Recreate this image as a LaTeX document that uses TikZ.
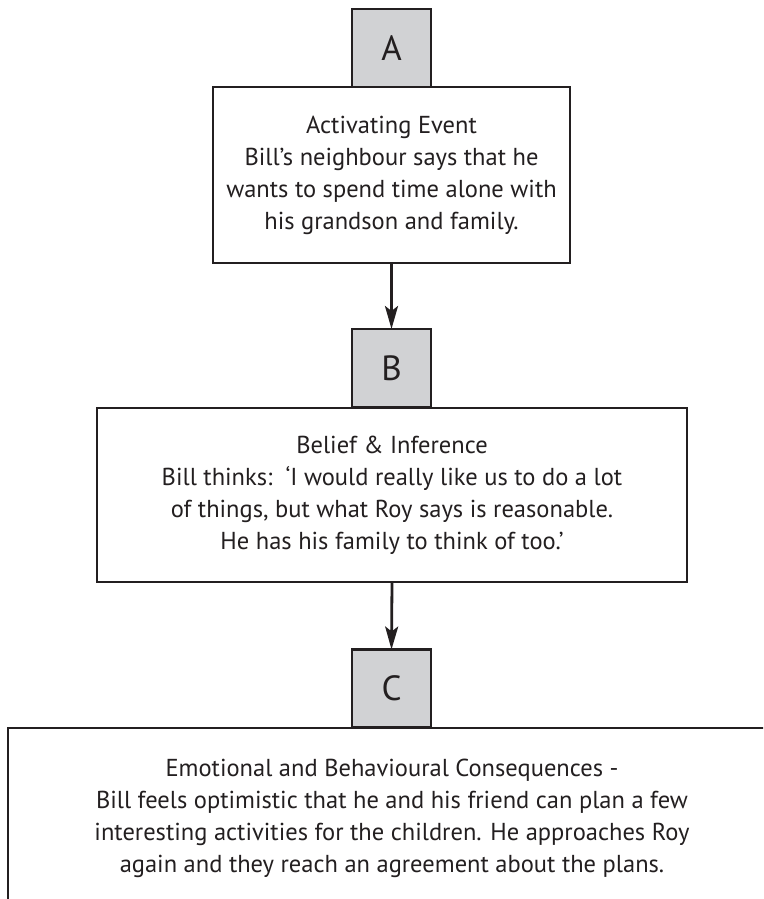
\documentclass[tikz,border=0pt]{standalone}
\usepackage{fontspec}
\setmainfont{PT Sans}
\usetikzlibrary{arrows.meta}
\definecolor{ink}{HTML}{231F20}
\definecolor{tabgrey}{HTML}{D1D2D4}
\begin{document}
\begin{tikzpicture}[x=1pt,y=-1pt,
  every node/.style={inner sep=0pt, outer sep=0pt},
  tab/.style={draw=ink, line width=2.8pt, fill=tabgrey,
    minimum width=79pt, minimum height=78pt,
    font=\fontsize{35}{40}\selectfont, text=ink},
  textbox/.style={draw=ink, line width=2.8pt, fill=white, align=center,
    font=\fontsize{24.5}{32}\selectfont, text=ink},
  flow/.style={draw=ink, line width=2.8pt,
    -{Stealth[length=23pt, width=13pt, inset=5pt]}}]
\clip (0,0) rectangle (763,899);
\fill[white] (0,0) rectangle (763,899);

% A: activating event
\node[textbox, minimum width=357pt, minimum height=176pt] (boxA) at (391.5,175)
  {Activating Event\\
   Bill’s neighbour says that he\\
   wants to spend time alone with\\
   his grandson and family.};
\node[tab] (tabA) at (391.5,48) {A};

% B: belief and inference
\node[textbox, minimum width=590pt, minimum height=174pt] (boxB) at (392,495)
  {Belief \& Inference\\
   Bill thinks:\ \ ‘I would really like us to do a lot\\
   of things, but what Roy says is reasonable.\\
   He has his family to think of too.’};
\node[tab] (tabB) at (391.5,368) {B};

% C: consequences (box runs past the page edge)
\node[textbox, minimum width=792pt, minimum height=180pt, anchor=north west] (boxC) at (8,728) {};
\node[align=center, font=\fontsize{24.5}{32}\selectfont, text=ink] (textC) at (392,818)
  {Emotional and Behavioural Consequences -\\
   Bill feels optimistic that he and his friend can plan a few\\
   interesting activities for the children. He approaches Roy\\
   again and they reach an agreement about the plans.};
\node[tab] (tabC) at (391.5,688.5) {C};

% connectors
\draw[flow] (boxA.south) -- (tabB.north);
\draw[flow] (boxB.south) -- (tabC.north);
\end{tikzpicture}
\end{document}
